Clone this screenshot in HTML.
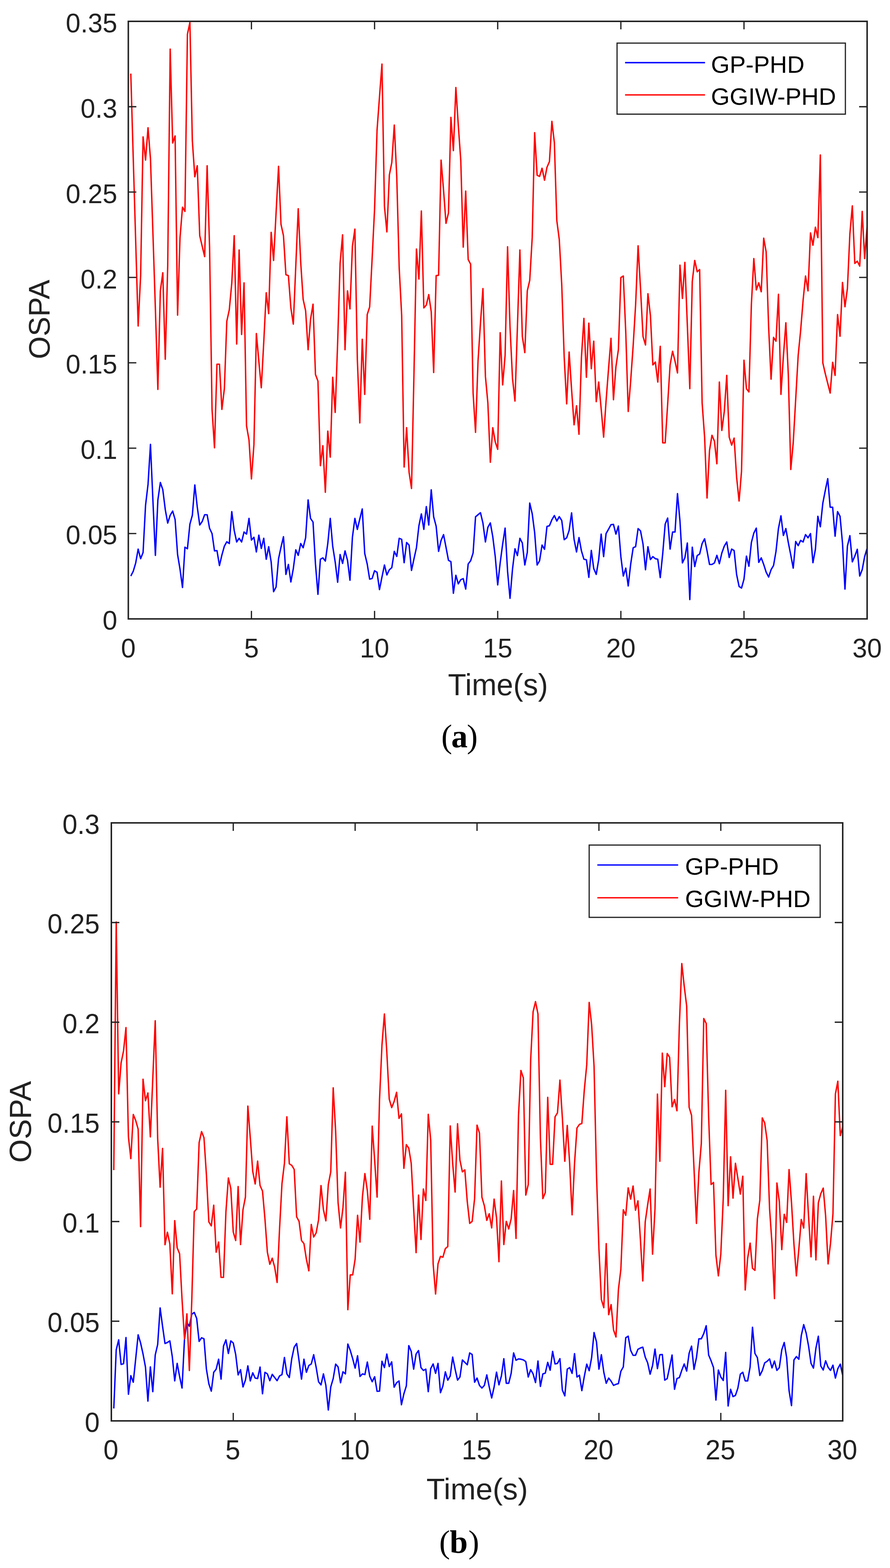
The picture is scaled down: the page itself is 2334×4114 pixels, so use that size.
<!DOCTYPE html>
<html><head><meta charset="utf-8"><title>OSPA comparison: GP-PHD vs GGIW-PHD</title>
<style>
html,body{margin:0;padding:0;background:#fff;}
svg{display:block;}
.ff-s{font-family:'Liberation Sans', Arial, Helvetica, sans-serif;}
.ff-r{font-family:'Liberation Serif', 'Times New Roman', serif;}
</style></head><body>
<svg width="2334" height="4114" viewBox="0 0 2334 4114">
<defs>
<clipPath id="ca"><rect x="336.5" y="56.0" width="1937.5" height="1567.8"/></clipPath>
<clipPath id="cb"><rect x="292.0" y="2159.0" width="1918.0" height="1569.0"/></clipPath>
</defs>
<rect width="2334" height="4114" fill="#fff"/>
<g clip-path="url(#ca)">
<polyline points="343.0,1511.3 349.4,1498.9 355.9,1476.9 362.3,1440.7 368.8,1465.9 375.2,1449.5 381.7,1325.8 388.2,1270.9 394.6,1165.9 401.1,1314.8 407.5,1457.1 414.0,1312.1 420.5,1265.9 426.9,1284.6 433.4,1336.8 439.8,1372.5 446.3,1351.9 452.8,1340.9 459.2,1362.9 465.7,1454.9 472.1,1493.4 478.6,1541.5 485.0,1435.7 491.5,1439.8 498.0,1375.3 504.4,1351.9 510.9,1272.3 517.3,1329.9 523.8,1377.5 530.2,1368.4 536.7,1350.5 543.2,1350.5 549.6,1386.3 556.1,1400.0 562.5,1445.3 569.0,1444.5 575.5,1483.8 581.9,1456.3 588.4,1433.0 594.8,1421.4 601.3,1426.1 607.8,1342.3 614.2,1391.8 620.7,1422.0 627.1,1412.4 633.6,1422.0 640.0,1395.9 646.5,1401.4 653.0,1360.2 659.4,1417.0 665.9,1409.6 672.3,1448.1 678.8,1404.1 685.2,1439.0 691.7,1412.4 698.2,1467.3 704.6,1434.3 711.1,1474.2 717.5,1552.5 724.0,1540.1 730.5,1465.9 736.9,1435.7 743.4,1408.2 749.8,1507.1 756.3,1481.0 762.8,1526.9 769.2,1492.0 775.7,1442.6 782.1,1457.1 788.6,1426.1 795.0,1437.1 801.5,1411.0 808.0,1311.5 814.4,1360.2 820.9,1369.8 827.3,1479.7 833.8,1559.3 840.2,1467.3 846.7,1463.7 853.2,1472.0 859.6,1426.1 866.1,1360.2 872.5,1433.0 879.0,1474.2 885.5,1527.7 891.9,1454.9 898.4,1478.3 904.8,1445.3 911.3,1470.1 917.8,1522.3 924.2,1409.6 930.7,1360.2 937.1,1389.0 943.6,1361.5 950.0,1335.4 956.5,1452.2 963.0,1479.7 969.4,1519.5 975.9,1517.6 982.3,1497.5 988.8,1501.6 995.2,1547.0 1001.7,1514.0 1008.2,1482.4 1014.6,1508.5 1021.1,1494.8 1027.5,1489.3 1034.0,1446.7 1040.5,1459.9 1046.9,1412.4 1053.4,1415.1 1059.8,1476.4 1066.3,1423.4 1072.8,1430.2 1079.2,1496.7 1085.7,1465.9 1092.1,1437.1 1098.6,1379.4 1105.0,1348.4 1111.5,1389.0 1118.0,1329.1 1124.4,1377.5 1130.9,1285.2 1137.3,1356.0 1143.8,1380.8 1150.2,1446.7 1156.7,1417.9 1163.2,1402.7 1169.6,1435.7 1176.1,1470.1 1182.5,1473.6 1189.0,1556.6 1195.5,1509.3 1201.9,1531.9 1208.4,1520.9 1214.8,1518.1 1221.3,1545.6 1227.8,1479.7 1234.2,1471.4 1240.7,1450.8 1247.1,1356.0 1253.6,1350.5 1260.0,1345.1 1266.5,1372.5 1273.0,1422.0 1279.4,1383.5 1285.9,1372.0 1292.3,1408.2 1298.8,1460.4 1305.2,1534.6 1311.7,1476.9 1318.2,1427.5 1324.6,1385.7 1331.1,1498.9 1337.5,1569.8 1344.0,1493.4 1350.5,1439.8 1356.9,1457.7 1363.4,1412.4 1369.8,1424.7 1376.3,1482.4 1382.8,1449.5 1389.2,1319.8 1395.7,1347.8 1402.1,1397.3 1408.6,1482.4 1415.0,1471.4 1421.5,1430.2 1428.0,1441.2 1434.4,1381.3 1440.9,1379.4 1447.3,1363.7 1453.8,1352.7 1460.2,1367.0 1466.7,1355.5 1473.2,1365.7 1479.6,1415.9 1486.1,1411.0 1492.5,1391.8 1499.0,1345.6 1505.5,1415.1 1511.9,1448.1 1518.4,1410.4 1524.8,1445.3 1531.3,1467.3 1537.8,1468.7 1544.2,1514.8 1550.7,1444.0 1557.1,1492.0 1563.6,1507.1 1570.0,1468.7 1576.5,1401.4 1583.0,1460.4 1589.4,1400.0 1595.9,1388.5 1602.3,1376.6 1608.8,1375.8 1615.2,1401.4 1621.7,1380.2 1628.2,1460.4 1634.6,1511.3 1641.1,1490.7 1647.5,1537.4 1654.0,1479.7 1660.5,1437.1 1666.9,1434.3 1673.4,1386.8 1679.8,1393.1 1686.3,1427.5 1692.8,1494.8 1699.2,1434.3 1705.7,1468.1 1712.1,1460.4 1718.6,1465.9 1725.0,1467.3 1731.5,1515.4 1738.0,1452.2 1744.4,1375.3 1750.9,1359.3 1757.3,1440.7 1763.8,1395.9 1770.2,1395.9 1776.7,1295.1 1783.2,1367.0 1789.6,1476.9 1796.1,1463.2 1802.5,1424.7 1809.0,1573.1 1815.5,1435.7 1821.9,1486.5 1828.4,1457.7 1834.8,1453.6 1841.3,1426.1 1847.8,1413.7 1854.2,1445.3 1860.7,1481.0 1867.1,1481.0 1873.6,1476.9 1880.0,1457.1 1886.5,1479.1 1893.0,1450.8 1899.4,1433.0 1905.9,1422.0 1912.3,1462.6 1918.8,1440.7 1925.2,1444.5 1931.7,1507.1 1938.2,1538.7 1944.6,1542.9 1951.1,1519.5 1957.5,1459.1 1964.0,1485.7 1970.5,1423.4 1976.9,1398.6 1983.4,1385.7 1989.8,1475.5 1996.3,1463.7 2002.8,1481.0 2009.2,1501.1 2015.7,1514.0 2022.1,1494.8 2028.6,1483.8 2035.0,1446.7 2041.5,1386.3 2048.0,1353.3 2054.4,1404.9 2060.9,1386.8 2067.3,1423.4 2073.8,1456.3 2080.2,1490.7 2086.7,1420.6 2093.2,1431.6 2099.6,1417.9 2106.1,1422.0 2112.5,1402.7 2119.0,1411.0 2125.5,1400.0 2131.9,1476.4 2138.4,1441.2 2144.8,1354.7 2151.3,1382.1 2157.8,1320.3 2164.2,1287.4 2170.7,1255.8 2177.1,1330.8 2183.6,1330.8 2190.0,1406.9 2196.5,1342.3 2203.0,1354.7 2209.4,1424.7 2215.9,1545.6 2222.3,1433.0 2228.8,1405.5 2235.2,1474.2 2241.7,1459.1 2248.2,1441.2 2254.6,1511.3 2261.1,1494.8 2267.5,1460.4 2274.0,1438.5" fill="none" stroke="#0000ff" stroke-width="3.7" stroke-linejoin="round"/>
<polyline points="343.0,193.1 349.4,414.0 355.9,634.4 362.3,855.3 368.8,723.2 375.2,359.2 381.7,420.0 388.2,335.2 394.6,416.5 401.1,613.5 407.5,810.4 414.0,1021.8 420.5,763.1 426.9,715.7 433.4,942.6 439.8,698.2 446.3,128.8 452.8,375.1 459.2,356.7 465.7,826.9 472.1,623.4 478.6,543.7 485.0,554.6 491.5,89.9 498.0,59.0 504.4,369.1 510.9,463.9 517.3,434.9 523.8,618.4 530.2,645.9 536.7,673.3 543.2,434.9 549.6,648.4 556.1,1074.2 562.5,1174.9 569.0,955.5 575.5,955.5 581.9,1074.2 588.4,1019.8 594.8,842.8 601.3,812.9 607.8,743.1 614.2,618.4 620.7,902.7 627.1,655.8 633.6,877.7 640.0,742.1 646.5,1117.1 653.0,1154.5 659.4,1256.7 665.9,1166.9 672.3,875.2 678.8,947.5 685.2,1017.4 691.7,897.7 698.2,768.0 704.6,822.9 711.1,609.5 717.5,683.3 724.0,558.6 730.5,436.4 736.9,588.5 743.4,618.4 749.8,720.7 756.3,723.2 762.8,807.9 769.2,850.3 775.7,698.2 782.1,547.6 788.6,688.3 795.0,785.5 801.5,815.4 808.0,917.6 814.4,837.8 820.9,798.0 827.3,982.5 833.8,999.9 840.2,1221.8 846.7,1169.4 853.2,1291.6 859.6,1131.0 866.1,1199.4 872.5,989.9 879.0,1082.2 885.5,897.7 891.9,690.7 898.4,616.0 904.8,917.6 911.3,763.1 917.8,810.4 924.2,645.9 930.7,601.0 937.1,942.6 943.6,1109.6 950.0,890.2 956.5,1034.8 963.0,825.4 969.4,805.4 975.9,678.3 982.3,548.6 988.8,341.7 995.2,254.4 1001.7,168.2 1008.2,541.2 1014.6,608.5 1021.1,458.9 1027.5,426.5 1034.0,328.2 1040.5,463.9 1046.9,703.2 1053.4,827.9 1059.8,1225.3 1066.3,1122.1 1072.8,1239.2 1079.2,1281.6 1085.7,977.5 1092.1,653.4 1098.6,732.1 1105.0,553.6 1111.5,807.9 1118.0,800.4 1124.4,773.0 1130.9,817.9 1137.3,977.5 1143.8,723.2 1150.2,722.2 1156.7,420.0 1163.2,498.8 1169.6,586.0 1176.1,558.6 1182.5,307.8 1189.0,395.1 1195.5,229.5 1201.9,329.2 1208.4,421.5 1214.8,648.4 1221.3,501.3 1227.8,680.8 1234.2,693.2 1240.7,1031.3 1247.1,1134.5 1253.6,947.5 1260.0,847.8 1266.5,757.1 1273.0,987.4 1279.4,1057.2 1285.9,1212.8 1292.3,1122.1 1298.8,1159.5 1305.2,1178.9 1311.7,872.8 1318.2,1009.9 1324.6,932.6 1331.1,647.4 1337.5,857.8 1344.0,992.4 1350.5,1052.3 1356.9,857.8 1363.4,655.8 1369.8,882.7 1376.3,925.1 1382.8,763.1 1389.2,735.6 1395.7,623.4 1402.1,348.2 1408.6,459.9 1415.0,462.9 1421.5,441.4 1428.0,472.8 1434.4,438.9 1440.9,424.0 1447.3,318.3 1453.8,374.1 1460.2,578.6 1466.7,628.4 1473.2,748.1 1479.6,937.6 1486.1,1059.7 1492.5,923.6 1499.0,1022.3 1505.5,1114.6 1511.9,1064.7 1518.4,1139.5 1524.8,937.6 1531.3,835.4 1537.8,989.9 1544.2,847.8 1550.7,967.5 1557.1,895.2 1563.6,1053.8 1570.0,1002.4 1576.5,1072.2 1583.0,1147.0 1589.4,1052.3 1595.9,967.5 1602.3,887.7 1608.8,1048.8 1615.2,962.5 1621.7,917.6 1628.2,728.1 1634.6,724.2 1641.1,872.8 1647.5,1079.7 1654.0,998.4 1660.5,906.2 1666.9,799.5 1673.4,644.9 1679.8,758.1 1686.3,882.7 1692.8,905.2 1699.2,770.5 1705.7,827.9 1712.1,957.5 1718.6,950.0 1725.0,1002.4 1731.5,908.7 1738.0,1162.0 1744.4,1162.0 1750.9,1060.7 1757.3,957.5 1763.8,921.6 1770.2,947.5 1776.7,978.5 1783.2,695.7 1789.6,783.0 1796.1,688.3 1802.5,852.8 1809.0,1019.8 1815.5,738.1 1821.9,683.3 1828.4,713.2 1834.8,707.2 1841.3,1057.2 1847.8,1147.0 1854.2,1306.6 1860.7,1181.9 1867.1,1142.0 1873.6,1157.5 1880.0,1216.8 1886.5,1002.4 1893.0,1129.5 1899.4,1079.7 1905.9,984.9 1912.3,1147.0 1918.8,1167.9 1925.2,1149.5 1931.7,1251.7 1938.2,1314.5 1944.6,1236.8 1951.1,945.1 1957.5,1019.8 1964.0,1028.3 1970.5,798.0 1976.9,678.3 1983.4,760.6 1989.8,742.1 1996.3,765.5 2002.8,624.9 2009.2,660.8 2015.7,857.8 2022.1,994.9 2028.6,885.2 2035.0,895.2 2041.5,772.0 2048.0,1034.8 2054.4,935.1 2060.9,846.8 2067.3,982.5 2073.8,1231.8 2080.2,1162.0 2086.7,1047.3 2093.2,932.6 2099.6,867.8 2106.1,788.0 2112.5,724.2 2119.0,763.1 2125.5,611.0 2131.9,643.4 2138.4,596.0 2144.8,623.4 2151.3,406.5 2157.8,952.0 2164.2,980.0 2170.7,1005.9 2177.1,1031.3 2183.6,950.5 2190.0,984.9 2196.5,825.4 2203.0,882.2 2209.4,741.1 2215.9,804.9 2222.3,757.1 2228.8,613.5 2235.2,540.2 2241.7,691.2 2248.2,685.3 2254.6,698.2 2261.1,554.6 2267.5,678.3 2274.0,593.5" fill="none" stroke="#ff0000" stroke-width="3.7" stroke-linejoin="round"/>
</g>
<path d="M659.4,1623.8V1602.8M659.4,56.0V77.0M982.3,1623.8V1602.8M982.3,56.0V77.0M1305.2,1623.8V1602.8M1305.2,56.0V77.0M1628.2,1623.8V1602.8M1628.2,56.0V77.0M1951.1,1623.8V1602.8M1951.1,56.0V77.0M336.5,1399.8H357.5M2274.0,1399.8H2253.0M336.5,1175.9H357.5M2274.0,1175.9H2253.0M336.5,951.9H357.5M2274.0,951.9H2253.0M336.5,727.9H357.5M2274.0,727.9H2253.0M336.5,503.9H357.5M2274.0,503.9H2253.0M336.5,280.0H357.5M2274.0,280.0H2253.0" stroke="#212121" stroke-width="3.3" fill="none"/>
<rect x="336.5" y="56.0" width="1937.5" height="1567.8" fill="none" stroke="#212121" stroke-width="3.9"/>
<text transform="translate(336.50,1725.10) scale(1,1.0150)" class="ff-s" font-size="69.30" text-anchor="middle" fill="#212121">0</text>
<text transform="translate(659.42,1725.10) scale(1,1.0150)" class="ff-s" font-size="69.30" text-anchor="middle" fill="#212121">5</text>
<text transform="translate(982.33,1725.10) scale(1,1.0150)" class="ff-s" font-size="69.30" text-anchor="middle" fill="#212121">10</text>
<text transform="translate(1305.25,1725.10) scale(1,1.0150)" class="ff-s" font-size="69.30" text-anchor="middle" fill="#212121">15</text>
<text transform="translate(1628.17,1725.10) scale(1,1.0150)" class="ff-s" font-size="69.30" text-anchor="middle" fill="#212121">20</text>
<text transform="translate(1951.08,1725.10) scale(1,1.0150)" class="ff-s" font-size="69.30" text-anchor="middle" fill="#212121">25</text>
<text transform="translate(2274.00,1725.10) scale(1,1.0150)" class="ff-s" font-size="69.30" text-anchor="middle" fill="#212121">30</text>
<text transform="translate(307.50,1652.40) scale(1,1.0150)" class="ff-s" font-size="69.30" text-anchor="end" fill="#212121">0</text>
<text transform="translate(307.50,1428.43) scale(1,1.0150)" class="ff-s" font-size="69.30" text-anchor="end" fill="#212121">0.05</text>
<text transform="translate(307.50,1204.46) scale(1,1.0150)" class="ff-s" font-size="69.30" text-anchor="end" fill="#212121">0.1</text>
<text transform="translate(307.50,980.49) scale(1,1.0150)" class="ff-s" font-size="69.30" text-anchor="end" fill="#212121">0.15</text>
<text transform="translate(307.50,756.51) scale(1,1.0150)" class="ff-s" font-size="69.30" text-anchor="end" fill="#212121">0.2</text>
<text transform="translate(307.50,532.54) scale(1,1.0150)" class="ff-s" font-size="69.30" text-anchor="end" fill="#212121">0.25</text>
<text transform="translate(307.50,308.57) scale(1,1.0150)" class="ff-s" font-size="69.30" text-anchor="end" fill="#212121">0.3</text>
<text transform="translate(307.50,84.60) scale(1,1.0150)" class="ff-s" font-size="69.30" text-anchor="end" fill="#212121">0.35</text>
<text transform="translate(1306.00,1824.00) scale(1,1.0100)" class="ff-s" font-size="78.30" text-anchor="middle" fill="#212121">Time(s)</text>
<text transform="translate(129.50,838.00) rotate(-90)" class="ff-s" font-size="77.00" text-anchor="middle" fill="#212121">OSPA</text>
<rect x="1618.2" y="113.1" width="598.8" height="186.4" fill="#fff" stroke="#212121" stroke-width="3.1"/>
<path d="M1639.2,164.3H1848.9" stroke="#0000ff" stroke-width="3.7"/>
<path d="M1639.2,249.0H1848.9" stroke="#ff0000" stroke-width="3.7"/>
<text transform="translate(1864.40,190.50) scale(1,0.9850)" class="ff-s" font-size="63.10" text-anchor="start" fill="#000">GP-PHD</text>
<text transform="translate(1864.40,274.70) scale(1,0.9850)" class="ff-s" font-size="63.10" text-anchor="start" fill="#000">GGIW-PHD</text>
<text class="ff-r" font-size="85.80" fill="#000" y="1960.50"><tspan x="1157.20">(</tspan><tspan x="1183.40" font-weight="bold">a</tspan><tspan x="1224.20">)</tspan></text>
<g clip-path="url(#cb)">
<polyline points="298.4,3695.3 304.8,3541.5 311.2,3515.4 317.6,3580.0 324.0,3578.0 330.4,3509.3 336.8,3658.2 343.1,3609.3 349.5,3626.6 355.9,3564.8 362.3,3502.2 368.7,3523.6 375.1,3552.5 381.5,3586.8 387.9,3676.1 394.3,3586.3 400.7,3651.4 407.1,3555.2 413.5,3527.7 419.9,3431.6 426.3,3479.7 432.7,3525.0 439.0,3522.3 445.4,3518.1 451.8,3559.3 458.2,3623.1 464.6,3577.2 471.0,3611.5 477.4,3641.8 483.8,3514.0 490.2,3470.0 496.6,3479.7 503.0,3448.1 509.4,3443.4 515.8,3459.1 522.2,3519.5 528.6,3509.9 534.9,3512.6 541.3,3592.3 547.7,3630.8 554.1,3650.0 560.5,3600.5 566.9,3592.3 573.3,3566.2 579.7,3618.4 586.1,3531.9 592.5,3515.4 598.9,3551.1 605.3,3518.1 611.7,3523.6 618.1,3553.8 624.5,3607.4 630.8,3593.7 637.2,3639.0 643.6,3621.2 650.0,3583.5 656.4,3623.1 662.8,3601.9 669.2,3615.7 675.6,3617.0 682.0,3586.8 688.4,3656.9 694.8,3600.5 701.2,3604.7 707.6,3622.5 714.0,3606.0 720.4,3614.3 726.7,3622.5 733.1,3610.2 739.5,3606.6 745.9,3561.5 752.3,3604.7 758.7,3614.3 765.1,3564.8 771.5,3534.6 777.9,3525.0 784.3,3570.3 790.7,3618.4 797.1,3566.2 803.5,3600.5 809.9,3582.7 816.3,3578.6 822.6,3554.4 829.0,3586.8 835.4,3625.3 841.8,3633.5 848.2,3604.7 854.6,3634.9 861.0,3699.5 867.4,3639.0 873.8,3617.0 880.2,3579.1 886.6,3586.3 893.0,3628.0 899.4,3599.2 905.8,3604.7 912.2,3526.4 918.5,3542.9 924.9,3564.8 931.3,3589.6 937.7,3557.1 944.1,3611.5 950.5,3604.7 956.9,3606.6 963.3,3573.6 969.7,3611.0 976.1,3625.3 982.5,3612.1 988.9,3650.5 995.3,3650.0 1001.7,3571.7 1008.1,3588.2 1014.4,3552.5 1020.8,3585.4 1027.2,3573.1 1033.6,3639.6 1040.0,3628.0 1046.4,3623.1 1052.8,3685.7 1059.2,3656.9 1065.6,3636.3 1072.0,3530.5 1078.4,3545.6 1084.8,3592.3 1091.2,3552.5 1097.6,3543.4 1104.0,3588.2 1110.3,3595.6 1116.7,3592.3 1123.1,3651.4 1129.5,3590.9 1135.9,3578.6 1142.3,3603.3 1148.7,3577.2 1155.1,3654.1 1161.5,3636.3 1167.9,3599.2 1174.3,3621.2 1180.7,3610.2 1187.1,3560.7 1193.5,3592.3 1199.9,3621.2 1206.2,3612.9 1212.6,3568.1 1219.0,3574.5 1225.4,3580.8 1231.8,3549.7 1238.2,3553.8 1244.6,3626.6 1251.0,3615.7 1257.4,3634.9 1263.8,3641.8 1270.2,3634.9 1276.6,3607.4 1283.0,3639.0 1289.4,3667.9 1295.8,3639.0 1302.1,3600.0 1308.5,3633.5 1314.9,3610.2 1321.3,3564.8 1327.7,3629.4 1334.1,3629.4 1340.5,3603.3 1346.9,3549.7 1353.3,3569.0 1359.7,3565.4 1366.1,3566.2 1372.5,3568.1 1378.9,3572.5 1385.3,3612.9 1391.7,3593.7 1398.0,3604.7 1404.4,3627.5 1410.8,3570.9 1417.2,3637.6 1423.6,3604.7 1430.0,3602.7 1436.4,3574.5 1442.8,3595.1 1449.2,3545.6 1455.6,3578.6 1462.0,3577.2 1468.4,3564.8 1474.8,3647.3 1481.2,3662.4 1487.6,3592.3 1493.9,3588.2 1500.3,3603.3 1506.7,3551.6 1513.1,3612.9 1519.5,3608.2 1525.9,3648.6 1532.3,3611.5 1538.7,3579.1 1545.1,3596.4 1551.5,3562.1 1557.9,3496.2 1564.3,3520.9 1570.7,3592.3 1577.1,3554.4 1583.5,3600.5 1589.8,3629.4 1596.2,3615.7 1602.6,3623.9 1609.0,3634.9 1615.4,3632.1 1621.8,3630.2 1628.2,3597.8 1634.6,3586.3 1641.0,3509.9 1647.4,3505.8 1653.8,3542.9 1660.2,3556.0 1666.6,3556.0 1673.0,3540.1 1679.4,3536.8 1685.7,3534.6 1692.1,3560.7 1698.5,3575.8 1704.9,3605.5 1711.3,3582.7 1717.7,3539.6 1724.1,3590.9 1730.5,3554.4 1736.9,3553.8 1743.3,3621.2 1749.7,3617.0 1756.1,3586.8 1762.5,3555.2 1768.9,3645.1 1775.3,3617.0 1781.6,3614.3 1788.0,3595.1 1794.4,3578.6 1800.8,3597.3 1807.2,3550.5 1813.6,3531.9 1820.0,3592.9 1826.4,3562.1 1832.8,3512.6 1839.2,3512.6 1845.6,3498.9 1852.0,3478.3 1858.4,3555.2 1864.8,3570.3 1871.2,3588.2 1877.5,3673.4 1883.9,3594.5 1890.3,3612.9 1896.7,3622.0 1903.1,3548.4 1909.5,3689.0 1915.9,3645.1 1922.3,3664.3 1928.7,3661.0 1935.1,3641.8 1941.5,3605.5 1947.9,3600.5 1954.3,3623.1 1960.7,3623.1 1967.1,3586.8 1973.4,3482.4 1979.8,3551.1 1986.2,3562.1 1992.6,3608.8 1999.0,3596.4 2005.4,3575.8 2011.8,3571.7 2018.2,3565.4 2024.6,3589.0 2031.0,3570.9 2037.4,3595.6 2043.8,3588.2 2050.2,3541.5 2056.6,3522.3 2063.0,3562.1 2069.3,3648.6 2075.7,3687.9 2082.1,3568.1 2088.5,3559.3 2094.9,3566.2 2101.3,3504.4 2107.7,3475.5 2114.1,3497.5 2120.5,3531.9 2126.9,3577.2 2133.3,3589.6 2139.7,3537.4 2146.1,3505.8 2152.5,3584.1 2158.9,3594.5 2165.2,3570.3 2171.6,3587.4 2178.0,3595.6 2184.4,3581.9 2190.8,3615.7 2197.2,3590.9 2203.6,3579.1 2210.0,3608.8" fill="none" stroke="#0000ff" stroke-width="3.7" stroke-linejoin="round"/>
<polyline points="298.4,3070.0 304.8,2419.0 311.2,2870.0 317.6,2788.6 324.0,2757.0 330.4,2696.0 336.8,2983.0 343.1,3040.0 349.5,2924.0 355.9,2940.0 362.3,2962.6 368.7,3218.4 375.1,2831.5 381.5,2888.0 387.9,2867.7 394.3,2983.0 400.7,2829.0 407.1,2678.0 413.5,2987.4 419.9,3115.0 426.3,3013.0 432.7,3265.8 439.0,3233.0 445.4,3263.6 451.8,3394.6 458.2,3202.5 464.6,3273.7 471.0,3289.5 477.4,3409.0 483.8,3513.0 490.2,3447.0 496.6,3596.0 503.0,3410.0 509.4,3179.0 515.8,3172.0 522.2,2998.0 528.6,2969.0 534.9,2985.0 541.3,3082.0 547.7,3206.0 554.1,3216.4 560.5,3162.1 566.9,3285.3 573.3,3258.8 579.7,3351.5 586.1,3351.5 592.5,3179.3 598.9,3090.6 605.3,3118.4 611.7,3232.3 618.1,3254.8 624.5,3113.1 630.8,3265.4 637.2,3174.0 643.6,3140.9 650.0,2902.0 656.4,2986.0 662.8,3073.4 669.2,3106.5 675.6,3046.4 682.0,3110.5 688.4,3125.0 694.8,3197.9 701.2,3285.3 707.6,3317.1 714.0,3301.2 720.4,3325.0 726.7,3364.8 733.1,3224.4 739.5,3105.2 745.9,3052.2 752.3,2930.0 758.7,3053.5 765.1,3057.5 771.5,3068.1 777.9,3192.6 784.3,3204.5 790.7,3254.8 797.1,3262.8 803.5,3303.8 809.9,3334.3 816.3,3212.5 822.6,3245.6 829.0,3235.0 835.4,3200.5 841.8,3110.5 848.2,3174.0 854.6,3203.2 861.0,3107.8 867.4,3074.7 873.8,2854.2 880.2,2967.4 886.6,3155.5 893.0,3221.7 899.4,3168.7 905.8,3075.5 912.2,3436.3 918.5,3344.9 924.9,3344.9 931.3,3303.8 937.7,3188.6 944.1,3258.8 950.5,3139.6 956.9,3079.2 963.3,3123.7 969.7,3199.2 976.1,2954.7 982.5,3044.2 988.9,3140.9 995.3,2885.0 1001.7,2742.0 1008.1,2660.4 1014.4,2760.5 1020.8,2884.0 1027.2,2906.0 1033.6,2890.0 1040.0,2866.0 1046.4,2934.3 1052.8,2922.4 1059.2,3065.4 1065.6,3003.2 1072.0,3012.5 1078.4,3052.2 1084.8,3171.4 1091.2,3286.6 1097.6,3135.6 1104.0,3252.2 1110.3,3119.7 1116.7,3149.7 1123.1,2923.7 1129.5,2991.3 1135.9,3315.8 1142.3,3395.2 1148.7,3315.8 1155.1,3296.4 1161.5,3298.5 1167.9,3276.0 1174.3,3270.7 1180.7,2954.2 1187.1,3052.2 1193.5,3127.7 1199.9,2948.3 1206.2,3044.2 1212.6,3074.7 1219.0,3069.4 1225.4,3152.8 1231.8,3209.8 1238.2,3204.5 1244.6,3144.9 1251.0,2952.0 1257.4,2972.7 1263.8,3140.9 1270.2,3163.4 1276.6,3201.9 1283.0,3184.6 1289.4,3221.7 1295.8,3146.2 1302.1,3195.2 1308.5,3310.5 1314.9,3098.5 1321.3,3265.4 1327.7,3204.5 1334.1,3224.4 1340.5,3197.9 1346.9,3123.7 1353.3,3249.5 1359.7,2927.7 1366.1,2808.7 1372.5,2828.2 1378.9,3135.6 1385.3,3107.8 1391.7,2780.0 1398.0,2654.8 1404.4,2628.0 1410.8,2660.4 1417.2,2986.0 1423.6,3144.9 1430.0,3129.0 1436.4,2879.2 1442.8,3054.8 1449.2,3054.8 1455.6,2930.3 1462.0,2919.7 1468.4,2833.8 1474.8,2933.0 1481.2,3046.9 1487.6,2952.8 1493.9,3052.2 1500.3,3187.3 1506.7,3052.2 1513.1,2959.5 1519.5,2950.2 1525.9,2947.5 1532.3,2860.0 1538.7,2793.9 1545.1,2630.0 1551.5,2688.2 1557.9,2797.6 1564.3,3081.3 1570.7,3277.4 1577.1,3409.8 1583.5,3431.0 1589.8,3262.8 1596.2,3449.5 1602.6,3423.0 1609.0,3489.3 1615.4,3507.8 1621.8,3383.3 1628.2,3330.3 1634.6,3174.0 1641.0,3188.6 1647.4,3116.6 1653.8,3146.2 1660.2,3111.8 1666.6,3175.4 1673.0,3150.7 1679.4,3250.9 1685.7,3360.8 1692.1,3205.8 1698.5,3160.8 1704.9,3119.7 1711.3,3290.6 1717.7,3171.4 1724.1,2870.6 1730.5,3046.9 1736.9,2763.0 1743.3,2851.1 1749.7,2764.0 1756.1,2774.2 1762.5,2903.8 1768.9,2885.0 1775.3,2914.4 1781.6,2690.0 1788.0,2528.0 1794.4,2587.8 1800.8,2639.7 1807.2,2905.2 1813.6,2926.4 1820.0,3065.4 1826.4,3209.8 1832.8,3076.0 1839.2,3000.0 1845.6,2672.3 1852.0,2685.3 1858.4,2930.0 1864.8,3107.8 1871.2,3102.5 1877.5,3293.2 1883.9,3347.5 1890.3,3290.6 1896.7,3144.9 1903.1,2860.5 1909.5,3163.4 1915.9,3035.0 1922.3,3143.6 1928.7,3052.2 1935.1,3092.0 1941.5,3133.0 1947.9,3086.1 1954.3,3384.6 1960.7,3301.2 1967.1,3261.5 1973.4,3327.7 1979.8,3333.0 1986.2,3197.9 1992.6,3148.9 1999.0,2933.0 2005.4,2946.2 2011.8,2992.6 2018.2,3171.4 2024.6,3264.1 2031.0,3407.2 2037.4,3103.8 2043.8,3152.8 2050.2,3278.7 2056.6,3186.0 2063.0,3207.2 2069.3,3068.6 2075.7,3155.5 2082.1,3264.1 2088.5,3347.5 2094.9,3277.8 2101.3,3199.5 2107.7,3222.0 2114.1,3079.4 2120.5,3192.9 2126.9,3297.7 2133.3,3138.6 2139.7,3305.6 2146.1,3155.8 2152.5,3131.9 2158.9,3117.3 2165.2,3190.3 2171.6,3316.2 2178.0,3261.9 2184.4,3185.0 2190.8,2870.6 2197.2,2836.9 2203.6,2979.4 2210.0,2956.9" fill="none" stroke="#ff0000" stroke-width="3.7" stroke-linejoin="round"/>
</g>
<path d="M611.7,3728.0V3707.0M611.7,2159.0V2180.0M931.3,3728.0V3707.0M931.3,2159.0V2180.0M1251.0,3728.0V3707.0M1251.0,2159.0V2180.0M1570.7,3728.0V3707.0M1570.7,2159.0V2180.0M1890.3,3728.0V3707.0M1890.3,2159.0V2180.0M292.0,3466.5H313.0M2210.0,3466.5H2189.0M292.0,3205.0H313.0M2210.0,3205.0H2189.0M292.0,2943.5H313.0M2210.0,2943.5H2189.0M292.0,2682.0H313.0M2210.0,2682.0H2189.0M292.0,2420.5H313.0M2210.0,2420.5H2189.0" stroke="#212121" stroke-width="3.3" fill="none"/>
<rect x="292.0" y="2159.0" width="1918.0" height="1569.0" fill="none" stroke="#212121" stroke-width="3.9"/>
<text transform="translate(290.90,3828.60) scale(1,1.0300)" class="ff-s" font-size="70.40" text-anchor="middle" fill="#212121">0</text>
<text transform="translate(610.57,3828.60) scale(1,1.0300)" class="ff-s" font-size="70.40" text-anchor="middle" fill="#212121">5</text>
<text transform="translate(930.23,3828.60) scale(1,1.0300)" class="ff-s" font-size="70.40" text-anchor="middle" fill="#212121">10</text>
<text transform="translate(1249.90,3828.60) scale(1,1.0300)" class="ff-s" font-size="70.40" text-anchor="middle" fill="#212121">15</text>
<text transform="translate(1569.57,3828.60) scale(1,1.0300)" class="ff-s" font-size="70.40" text-anchor="middle" fill="#212121">20</text>
<text transform="translate(1889.23,3828.60) scale(1,1.0300)" class="ff-s" font-size="70.40" text-anchor="middle" fill="#212121">25</text>
<text transform="translate(2208.90,3828.60) scale(1,1.0300)" class="ff-s" font-size="70.40" text-anchor="middle" fill="#212121">30</text>
<text transform="translate(261.50,3756.60) scale(1,1.0300)" class="ff-s" font-size="70.40" text-anchor="end" fill="#212121">0</text>
<text transform="translate(261.50,3495.10) scale(1,1.0300)" class="ff-s" font-size="70.40" text-anchor="end" fill="#212121">0.05</text>
<text transform="translate(261.50,3233.60) scale(1,1.0300)" class="ff-s" font-size="70.40" text-anchor="end" fill="#212121">0.1</text>
<text transform="translate(261.50,2972.10) scale(1,1.0300)" class="ff-s" font-size="70.40" text-anchor="end" fill="#212121">0.15</text>
<text transform="translate(261.50,2710.60) scale(1,1.0300)" class="ff-s" font-size="70.40" text-anchor="end" fill="#212121">0.2</text>
<text transform="translate(261.50,2449.10) scale(1,1.0300)" class="ff-s" font-size="70.40" text-anchor="end" fill="#212121">0.25</text>
<text transform="translate(261.50,2187.60) scale(1,1.0300)" class="ff-s" font-size="70.40" text-anchor="end" fill="#212121">0.3</text>
<text transform="translate(1251.40,3934.40) scale(1,0.9750)" class="ff-s" font-size="79.50" text-anchor="middle" fill="#212121">Time(s)</text>
<text transform="translate(81.20,2943.50) rotate(-90)" class="ff-s" font-size="79.30" text-anchor="middle" fill="#212121">OSPA</text>
<rect x="1545.1" y="2217.2" width="605.8" height="189.7" fill="#fff" stroke="#212121" stroke-width="3.1"/>
<path d="M1566.5,2269.5H1778.4" stroke="#0000ff" stroke-width="3.7"/>
<path d="M1566.5,2355.5H1778.4" stroke="#ff0000" stroke-width="3.7"/>
<text transform="translate(1796.40,2295.00) scale(1,0.9900)" class="ff-s" font-size="63.30" text-anchor="start" fill="#000">GP-PHD</text>
<text transform="translate(1796.40,2380.20) scale(1,0.9900)" class="ff-s" font-size="63.30" text-anchor="start" fill="#000">GGIW-PHD</text>
<text class="ff-r" font-size="85.30" fill="#000" y="4074.20"><tspan x="1151.85">(</tspan><tspan x="1179.30" font-weight="bold">b</tspan><tspan x="1228.20">)</tspan></text>
</svg>
</body></html>
